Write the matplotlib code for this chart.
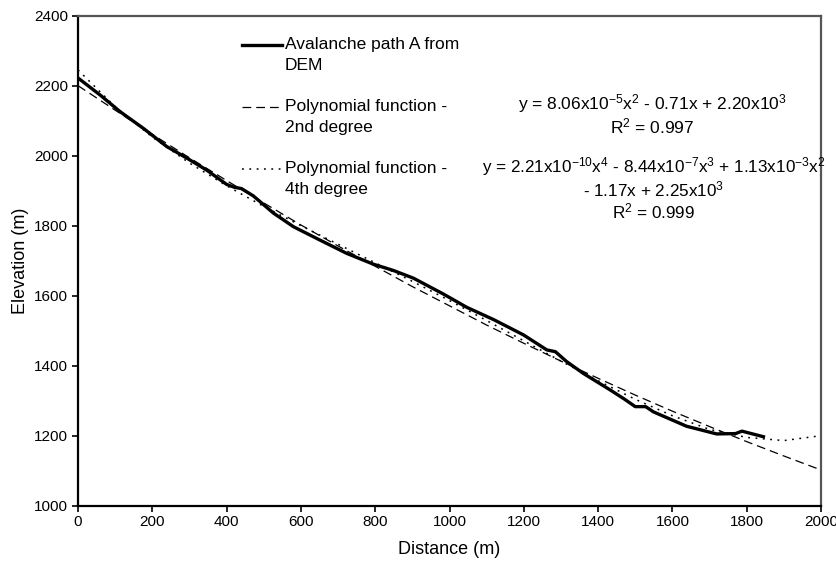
import numpy as np
import matplotlib
matplotlib.use("Agg")
import matplotlib.pyplot as plt

plt.rcParams['font.family'] = ['Liberation Sans', 'DejaVu Sans']
plt.rcParams['mathtext.default'] = 'regular'

# DEM profile of avalanche path A
dem_x = [0, 60, 113, 176, 239, 293, 346, 400, 420, 440, 472, 526, 580, 651, 723,
         795, 849, 903, 983, 1046, 1120, 1199, 1262, 1285, 1315, 1360, 1432, 1470,
         1500, 1528, 1549, 1638, 1719, 1770, 1787, 1845]
dem_y = [2222, 2173, 2126, 2078, 2026, 1993, 1959, 1918, 1910, 1906, 1885, 1836, 1797,
         1759, 1721, 1690, 1672, 1650, 1605, 1567, 1531, 1488, 1445, 1440, 1412, 1378,
         1331, 1305, 1283, 1283, 1268, 1227, 1205, 1206, 1213, 1197]

# fitted curves, sampled every 100 m
fit_x = [0, 100, 200, 300, 400, 500, 600, 700, 800, 900, 1000,
         1100, 1200, 1300, 1400, 1500, 1600, 1700, 1800, 1900, 2000]
poly2_y = [2200, 2130, 2061, 1994, 1929, 1865, 1802, 1742, 1684, 1626, 1571,
           1516, 1464, 1413, 1364, 1316, 1270, 1226, 1183, 1142, 1102]
poly4_y = [2245, 2140, 2053, 1979, 1914, 1855, 1800, 1747, 1694, 1641, 1586,
           1529, 1471, 1413, 1357, 1304, 1257, 1218, 1195, 1186, 1200]

eq2_lines = [r'y = 8.06x10$^{-5}$x$^{2}$ - 0.71x + 2.20x10$^{3}$',
             r'R$^{2}$ = 0.997']
eq4_lines = [r'y = 2.21x10$^{-10}$x$^{4}$ - 8.44x10$^{-7}$x$^{3}$ + 1.13x10$^{-3}$x$^{2}$',
             r'- 1.17x + 2.25x10$^{3}$',
             r'R$^{2}$ = 0.999']

fig = plt.figure(figsize=(8.37, 5.64), dpi=100)
ax = fig.add_axes([0.0932, 0.1034, 0.8877, 0.8688])

ax.plot(dem_x, dem_y, color='black', linewidth=2.4, solid_joinstyle='round',
        label='Avalanche path A from\nDEM')
ax.plot(fit_x, poly2_y, color='black', linewidth=0.9, dashes=(7, 4),
        label='Polynomial function -\n2nd degree')
ax.plot(fit_x, poly4_y, color='black', linewidth=1.1, dashes=(1.2, 3.6),
        label='Polynomial function -\n4th degree')

ax.set_xlim(0, 2000)
ax.set_ylim(1000, 2400)
ax.set_xticks(np.arange(0, 2001, 200))
ax.set_yticks(np.arange(1000, 2401, 200))
ax.tick_params(direction='out', length=4, width=1.2, labelsize=11, pad=3)
ax.set_xlabel('Distance (m)', fontsize=13, labelpad=8)
ax.set_ylabel('Elevation (m)', fontsize=13, labelpad=4)

for side in ['left', 'bottom']:
    ax.spines[side].set_linewidth(1.6)
    ax.spines[side].set_color('black')
for side in ['top', 'right']:
    ax.spines[side].set_linewidth(1.6)
    ax.spines[side].set_color('#555555')

leg = ax.legend(loc='upper left', bbox_to_anchor=(0.2207, 0.956), frameon=False,
                fontsize=12.5, handlelength=2.3, handletextpad=0.15, labelspacing=1.5,
                borderpad=0, borderaxespad=0, handleheight=1.3)
for t in leg.get_texts():
    t.set_linespacing(1.5)
# align handles with the first text line
for col in leg._legend_handle_box.get_children():
    for item in col.get_children():
        item.align = 'top'

for txt, yy in zip(eq2_lines, [0.8198, 0.7749]):
    ax.text(0.7725, yy, txt, transform=ax.transAxes, ha='center', va='center', fontsize=12.5)
for txt, yy in zip(eq4_lines, [0.6912, 0.6463, 0.6014]):
    ax.text(0.775, yy, txt, transform=ax.transAxes, ha='center', va='center', fontsize=12.3)

plt.savefig('out.png', dpi=100)
plt.close()
